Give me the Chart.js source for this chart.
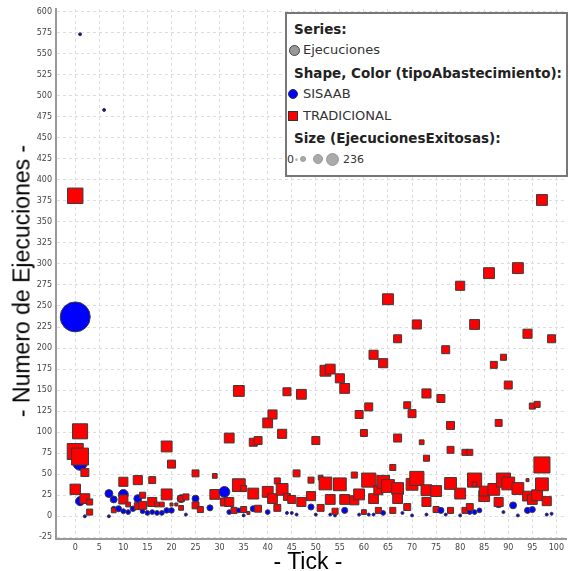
<!DOCTYPE html>
<html>
<head>
<meta charset="utf-8">
<script src="https://cdn.jsdelivr.net/npm/chart.js@4.4.0/dist/chart.umd.min.js"></script>
<style>
html, body { margin: 0; padding: 0; background: #fff; }
#wrap { position: relative; width: 570px; height: 571px; overflow: hidden; }
#chart { position: absolute; left: 0; top: 0; }
.ytitle { position: absolute; left: 22px; top: 281px; transform: translate(-50%, -50%) rotate(-90deg);
  font: 23px "Liberation Sans", Arial, sans-serif; color: #000; white-space: nowrap; }
.xtitle { position: absolute; left: 308px; top: 561px; transform: translate(-50%, -50%);
  font: 23px "Liberation Sans", Arial, sans-serif; color: #000; white-space: nowrap; }
#legend { position: absolute; left: 285px; top: 12px; width: 279px; height: 161px;
  border: 2px solid #777; background: #fff; font-family: "DejaVu Sans", sans-serif; }
#legend .row { position: absolute; line-height: 16px; white-space: nowrap; }
#legend .b { font-weight: bold; font-size: 13.5px; color: #222; }
#legend .r { font-size: 13px; color: #333; }
#legend .ic { position: absolute; box-sizing: border-box; }
</style>
</head>
<body>
<div id="wrap">
  <canvas id="chart" width="570" height="571"></canvas>
  <div class="ytitle">- Numero de Ejecuciones -</div>
  <div class="xtitle">- Tick -</div>
  <div id="legend">
    <div class="row b" style="left:7px; top:7px;">Series:</div>
    <div class="ic" style="left:2px; top:31px; width:11px; height:11px; border-radius:50%; background:#999; border:1px solid #444;"></div>
    <div class="row r" style="left:16px; top:28px;">Ejecuciones</div>
    <div class="row b" style="left:7px; top:51px;">Shape, Color (tipoAbastecimiento):</div>
    <div class="ic" style="left:1px; top:75px; width:10px; height:10px; border-radius:50%; background:#0000ff; border:1px solid #333;"></div>
    <div class="row r" style="left:16px; top:72px;">SISAAB</div>
    <div class="ic" style="left:1px; top:97px; width:10px; height:10px; background:#ff0000; border:1px solid #333;"></div>
    <div class="row r" style="left:16px; top:94px;">TRADICIONAL</div>
    <div class="row b" style="left:7px; top:116px;">Size (EjecucionesExitosas):</div>
    <div class="row r" style="left:0px; top:138px; font-size:11px;">0</div>
    <div class="ic" style="left:8px; top:144px; width:3px; height:3px; border-radius:50%; background:#bbb;"></div>
    <div class="ic" style="left:13px; top:142px; width:6px; height:6px; border-radius:50%; background:#aaa; border:1px solid #999;"></div>
    <div class="ic" style="left:26px; top:140px; width:10px; height:10px; border-radius:50%; background:#aaa; border:1px solid #999;"></div>
    <div class="ic" style="left:39px; top:139px; width:13px; height:13px; border-radius:50%; background:#aaa; border:1px solid #999;"></div>
    <div class="row r" style="left:56px; top:138px; font-size:11px;">236</div>
  </div>
</div>
<script>
// Axis ticks
const xTicks = [0, 5, 10, 15, 20, 25, 30, 35, 40, 45, 50, 55, 60, 65, 70, 75, 80, 85, 90, 95, 100];
const yTicks = [-25, 0, 25, 50, 75, 100, 125, 150, 175, 200, 225, 250, 275, 300, 325, 350, 375, 400,
                425, 450, 475, 500, 525, 550, 575, 600];

// SISAAB (blue circles): tick, Numero de Ejecuciones, EjecucionesExitosas
const sisaabTick = [1, 6, 0, 1, 1, 2, 7, 8, 7, 9,
                    8, 10, 10, 11, 12, 13, 14, 15, 16, 17,
                    18, 19, 20, 22, 23, 25, 28, 31, 32, 34,
                    35, 37, 40, 44, 45, 46, 49, 50, 53, 54,
                    56, 59, 61, 62, 64, 68, 70, 73, 76, 77,
                    78, 80, 82, 83, 84, 88, 89, 91, 92, 94,
                    95, 98, 99];
const sisaabEjec = [573, 483, 237, 63, 18, 0, 27, 20, 0, 9,
                    9, 26, 6, 5, 9, 21, 6, 4, 5, 4,
                    4, 7, 7, 21, 2, 21, 10, 29, 5, 7,
                    1, 9, 5, 4, 4, 2, 11, 2, 2, 1,
                    7, 2, 2, 2, 4, 4, 1, 2, 7, 2,
                    7, 1, 5, 5, 7, 15, 5, 13, 1, 7,
                    8, 2, 3];
const sisaabExit = [0, 0, 236, 40, 12, 0, 8, 5, 0, 3,
                    1, 15, 1, 1, 2, 8, 1, 1, 1, 1,
                    1, 2, 2, 8, 0, 5, 3, 20, 1, 1,
                    0, 3, 1, 0, 0, 0, 3, 0, 0, 0,
                    3, 0, 0, 0, 1, 0, 0, 0, 3, 0,
                    1, 0, 1, 1, 1, 8, 0, 5, 0, 3,
                    3, 0, 0];

// TRADICIONAL (red squares)
const tradTick = [0, 1, 0, 1, 2, 0, 2, 3, 3, 8,
                  10, 13, 16, 19, 20, 19, 10, 11, 14, 13,
                  14, 16, 17, 18, 20, 21, 22, 23, 25, 29,
                  29, 25, 26, 22, 32, 37, 38, 43, 46, 49,
                  34, 35, 37, 40, 43, 42, 41, 44, 45, 47,
                  49, 32, 31, 38, 42, 33, 35, 36, 34, 44,
                  47, 52, 53, 55, 56, 41, 40, 50, 59, 61,
                  60, 65, 62, 64, 67, 97, 86, 92, 80, 71,
                  83, 77, 94, 99, 87, 89, 90, 73, 76, 69,
                  70, 95, 96, 78, 88, 67, 72, 78, 81, 82,
                  73, 66, 97, 94, 58, 51, 52, 55, 61, 64,
                  65, 67, 70, 71, 73, 75, 53, 56, 58, 59,
                  62, 63, 67, 73, 51, 54, 60, 63, 66, 69,
                  75, 78, 80, 83, 83, 85, 85, 87, 89, 90,
                  92, 94, 95, 96, 97, 98, 88, 78, 81, 82];
const tradEjec = [381, 101, 77, 71, 52, 32, 21, 17, 5, 7,
                  41, 43, 43, 83, 62, 26, 20, 14, 25, 12,
                  13, 17, 14, 14, 14, 14, 21, 23, 51, 48,
                  26, 13, 8, 10, 93, 88, 90, 98, 51, 43,
                  37, 33, 27, 29, 32, 42, 21, 23, 20, 17,
                  24, 17, 17, 9, 10, 7, 8, 4, 149, 148,
                  145, 173, 175, 164, 152, 121, 111, 90, 121, 130,
                  99, 258, 192, 182, 211, 376, 289, 295, 274, 228,
                  228, 198, 217, 211, 180, 189, 156, 146, 140, 132,
                  122, 131, 133, 108, 111, 93, 88, 79, 76, 76,
                  69, 58, 61, 43, 49, 46, 39, 38, 43, 41,
                  36, 33, 38, 45, 31, 30, 20, 20, 19, 26,
                  21, 31, 21, 17, 10, 6, 5, 7, 7, 11,
                  8, 39, 27, 43, 38, 24, 30, 32, 43, 39,
                  33, 24, 20, 25, 38, 18, 17, 7, 7, 11];
const tradExit = [50, 47, 55, 63, 8, 18, 15, 3, 3, 1,
                  12, 12, 5, 20, 8, 20, 12, 1, 3, 5,
                  8, 12, 1, 1, 0, 0, 3, 3, 5, 1,
                  15, 5, 3, 1, 15, 8, 8, 12, 5, 3,
                  31, 3, 20, 20, 25, 3, 15, 5, 8, 12,
                  12, 12, 8, 5, 5, 3, 3, 0, 20, 8,
                  15, 20, 15, 12, 15, 12, 15, 8, 8, 8,
                  5, 20, 12, 12, 8, 20, 20, 20, 12, 12,
                  15, 8, 12, 8, 5, 3, 8, 12, 8, 5,
                  8, 3, 3, 8, 5, 8, 1, 5, 3, 3,
                  3, 3, 55, 0, 3, 1, 31, 31, 40, 31,
                  31, 25, 25, 40, 20, 20, 15, 15, 12, 20,
                  15, 12, 15, 12, 5, 3, 1, 3, 3, 5,
                  3, 25, 20, 40, 1, 20, 15, 25, 40, 31,
                  25, 15, 15, 20, 31, 12, 12, 3, 3, 5];

const MAX_EXITOSAS = 236;
const BLUE = '#0000ff';
const RED = '#ff0000';
const OUTLINE = '#3a3a3a';

// half size of a marker in px for a given EjecucionesExitosas value
function markerHalf(v) {
    return 1.5 + 13.5 * Math.sqrt(v / MAX_EXITOSAS);
}

// merge both groups, drawn in tick order
const points = [];
sisaabTick.forEach((t, i) => points.push({ x: t, y: sisaabEjec[i], v: sisaabExit[i], tipo: 'S' }));
tradTick.forEach((t, i) => points.push({ x: t, y: tradEjec[i], v: tradExit[i], tipo: 'T' }));
points.sort((a, b) => a.x - b.x || (a.tipo === b.tipo ? 0 : (a.tipo === 'S' ? -1 : 1)));

const pt = ctx => points[ctx.dataIndex];

// no extra room for edge labels, keep the plot box fixed
function noEdgePadding(s) {
    s.paddingLeft = 0;
    s.paddingRight = 0;
    s.paddingTop = 0;
    s.paddingBottom = 0;
}

new Chart(document.getElementById('chart'), {
    type: 'scatter',
    data: {
        datasets: [{
            label: 'Ejecuciones',
            data: points.map(p => ({ x: p.x, y: p.y })),
            pointStyle: ctx => (pt(ctx) && pt(ctx).tipo === 'T') ? 'rect' : 'circle',
            pointRadius: ctx => {
                const p = pt(ctx);
                if (!p) return 3;
                const h = markerHalf(p.v);
                return p.tipo === 'T' ? h / Math.SQRT1_2 : h;
            },
            backgroundColor: ctx => (pt(ctx) && pt(ctx).tipo === 'T') ? RED : BLUE,
            borderColor: OUTLINE,
            borderWidth: 1
        }]
    },
    options: {
        responsive: false,
        animation: false,
        devicePixelRatio: 1,
        layout: { autoPadding: false, padding: { top: 9, right: 4, left: 0, bottom: 0 } },
        plugins: {
            legend: { display: false },
            tooltip: { enabled: false }
        },
        scales: {
            x: {
                type: 'linear',
                min: -4,
                max: 102,
                afterBuildTicks: s => { s.ticks = xTicks.map(v => ({ value: v })); },
                afterFit: s => { s.height = 32; noEdgePadding(s); },
                ticks: {
                    font: { family: 'DejaVu Sans', size: 8 },
                    color: '#444',
                    padding: 4,
                    maxRotation: 0,
                    autoSkip: false
                },
                grid: { color: '#dddddd', drawTicks: false, lineWidth: 1 },
                border: { color: '#999', width: 2, dash: [3, 3] }
            },
            y: {
                type: 'linear',
                min: -27,
                max: 603,
                afterBuildTicks: s => { s.ticks = yTicks.map(v => ({ value: v })); },
                afterFit: s => { s.width = 56; noEdgePadding(s); },
                ticks: {
                    font: { family: 'DejaVu Sans', size: 8 },
                    color: '#444',
                    padding: 4,
                    autoSkip: false
                },
                grid: { color: '#dddddd', drawTicks: false, lineWidth: 1 },
                border: { color: '#999', width: 2, dash: [3, 3] }
            }
        }
    }
});
</script>
</body>
</html>
